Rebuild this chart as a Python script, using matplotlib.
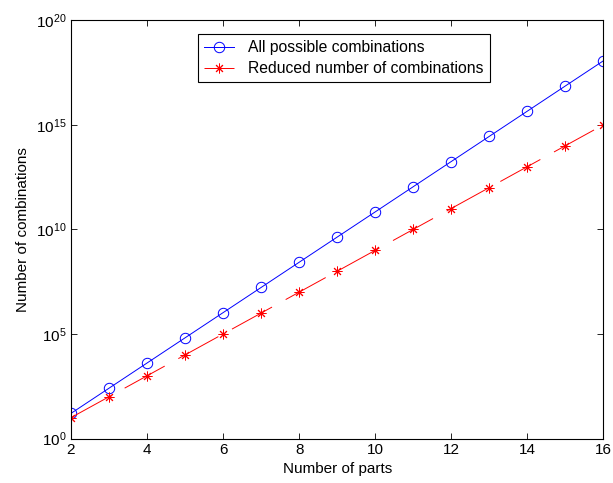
import matplotlib
matplotlib.use('Agg')
import matplotlib.pyplot as plt

plt.rcParams['font.family'] = ['Liberation Sans', 'DejaVu Sans']
plt.rcParams['mathtext.default'] = 'regular'

# values
parts = [2, 3, 4, 5, 6, 7, 8, 9, 10, 11, 12, 13, 14, 15, 16]
all_comb = [16, 256, 4096, 65536, 1048576, 16777216, 268435456, 4294967296,
            6.87e10, 1.10e12, 1.76e13, 2.81e14, 4.50e15, 7.21e16, 1.15e18]
reduced_comb = [1e1, 1e2, 1e3, 1e4, 1e5, 1e6, 1e7, 1e8,
                1e9, 1e10, 1e11, 1e12, 1e13, 1e14, 1e15]

fig = plt.figure(figsize=(6.13, 4.83), dpi=100)
ax = fig.add_axes([0.1158, 0.092, 0.8684, 0.866])

ax.plot(parts, all_comb, color='b', lw=0.7, marker='o', ms=7.5,
        mfc='none', mec='b', mew=0.7, label='All possible combinations')
ax.plot(parts, reduced_comb, color='r', lw=0.7, ls=(0, (47, 16)),
        marker=(8, 2, 0), ms=7, mec='r', mew=0.7,
        label='Reduced number of combinations')

ax.set_yscale('log')
ax.set_xlim(2, 16)
ax.set_ylim(1, 1e20)
ax.set_xticks([2, 4, 6, 8, 10, 12, 14, 16])
ax.set_yticks([1, 1e5, 1e10, 1e15, 1e20])
ax.minorticks_off()
ax.tick_params(direction='in', top=True, right=True, labelsize=11, length=4, width=0.6)
for s in ax.spines.values():
    s.set_linewidth(0.8)

ax.set_xlabel('Number of parts', fontsize=11, labelpad=3)
ax.set_ylabel('Number of combinations', fontsize=11)

leg = ax.legend(loc='upper left', bbox_to_anchor=(0.2386, 0.967), fontsize=11.3,
                fancybox=False, edgecolor='k', framealpha=1, handlelength=1.9,
                handletextpad=0.9, borderpad=0.4, labelspacing=0.36,
                borderaxespad=0)
leg.get_frame().set_linewidth(0.8)

fig.savefig('out.png', dpi=100)
